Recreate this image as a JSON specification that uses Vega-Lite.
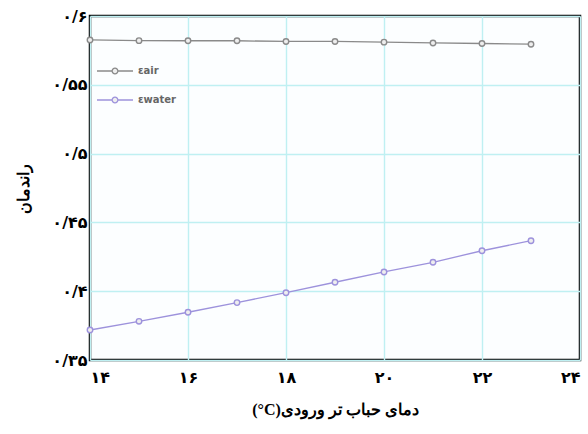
{
  "$schema": "https://vega.github.io/schema/vega-lite/v6.json",
  "autosize": "none",
  "width": 490,
  "height": 344,
  "padding": {"left": 90, "top": 16, "right": 8, "bottom": 74},
  "background": "white",
  "config": {
    "view": {"stroke": "black", "strokeWidth": 2.5, "fill": "#fcfeff"},
    "axis": {
      "gridColor": "#bff0f2", "gridWidth": 1.4, "gridOpacity": 1,
      "domain": false, "ticks": false,
      "labelFont": "DejaVu Sans", "labelFontWeight": "bold", "labelFontSize": 16, "labelColor": "black",
      "titleFont": "Liberation Serif", "titleFontWeight": "bold", "titleFontSize": 16, "titleColor": "black"
    }
  },
  "data": {
    "values": [
      {"t": 14, "s": "εair", "v": 0.5826},
      {"t": 15, "s": "εair", "v": 0.5821},
      {"t": 16, "s": "εair", "v": 0.582},
      {"t": 17, "s": "εair", "v": 0.582},
      {"t": 18, "s": "εair", "v": 0.5815},
      {"t": 19, "s": "εair", "v": 0.5815},
      {"t": 20, "s": "εair", "v": 0.581},
      {"t": 21, "s": "εair", "v": 0.5804},
      {"t": 22, "s": "εair", "v": 0.58},
      {"t": 23, "s": "εair", "v": 0.5795},
      {"t": 14, "s": "εwater", "v": 0.3718},
      {"t": 15, "s": "εwater", "v": 0.3781},
      {"t": 16, "s": "εwater", "v": 0.3847},
      {"t": 17, "s": "εwater", "v": 0.3917},
      {"t": 18, "s": "εwater", "v": 0.3989},
      {"t": 19, "s": "εwater", "v": 0.4065},
      {"t": 20, "s": "εwater", "v": 0.414},
      {"t": 21, "s": "εwater", "v": 0.421},
      {"t": 22, "s": "εwater", "v": 0.4294},
      {"t": 23, "s": "εwater", "v": 0.4367}
    ]
  },
  "mark": {"type": "line", "strokeWidth": 1.3, "clip": false, "point": {"filled": false, "fill": "#eeeeee", "size": 30, "strokeWidth": 1.4}},
  "encoding": {
    "x": {
      "field": "t", "type": "quantitative",
      "scale": {"domain": [14, 24], "nice": false, "zero": false},
      "axis": {
        "values": [14, 16, 18, 20, 22, 24],
        "labelPadding": 9,
        "labelExpr": "replace(replace(replace(replace(replace(replace(replace(datum.label, regexp('0','g'), '۰'), regexp('1','g'), '۱'), regexp('2','g'), '۲'), regexp('4','g'), '۴'), regexp('6','g'), '۶'), regexp('8','g'), '۸'), regexp(',','g'), '')",
        "title": "(°C)دمای حباب تر ورودی",
        "titlePadding": 16
      }
    },
    "y": {
      "field": "v", "type": "quantitative",
      "scale": {"domain": [0.35, 0.6], "nice": false, "zero": false},
      "axis": {
        "values": [0.35, 0.4, 0.45, 0.5, 0.55, 0.6],
        "labelPadding": 3,
        "labelExpr": "replace(replace(replace(replace(replace(replace(replace(format(datum.value, '.2~f'), regexp('0','g'), '۰'), regexp('\\\\.','g'), '/'), regexp('3','g'), '۳'), regexp('4','g'), '۴'), regexp('5','g'), '۵'), regexp('6','g'), '۶'), regexp('8','g'), '۸')",
        "title": "راندمان",
        "titlePadding": 20
      }
    },
    "color": {
      "field": "s", "type": "nominal",
      "scale": {"domain": ["εair", "εwater"], "range": ["#8a8a8a", "#9d92dc"]},
      "legend": {
        "title": null, "orient": "none", "legendX": 6, "legendY": 36,
        "symbolType": "M-1,0H-0.16M0.16,0H1M0.16,0A0.16,0.16 0 1 1 -0.16,0A0.16,0.16 0 1 1 0.16,0",
        "symbolSize": 1300, "symbolStrokeWidth": 1.3, "symbolFillColor": "#eeeeee",
        "labelFontSize": 10, "labelColor": "#666666", "labelFont": "DejaVu Sans", "labelFontWeight": "bold",
        "labelOffset": 4,
        "rowPadding": 4
      }
    }
  }
}
